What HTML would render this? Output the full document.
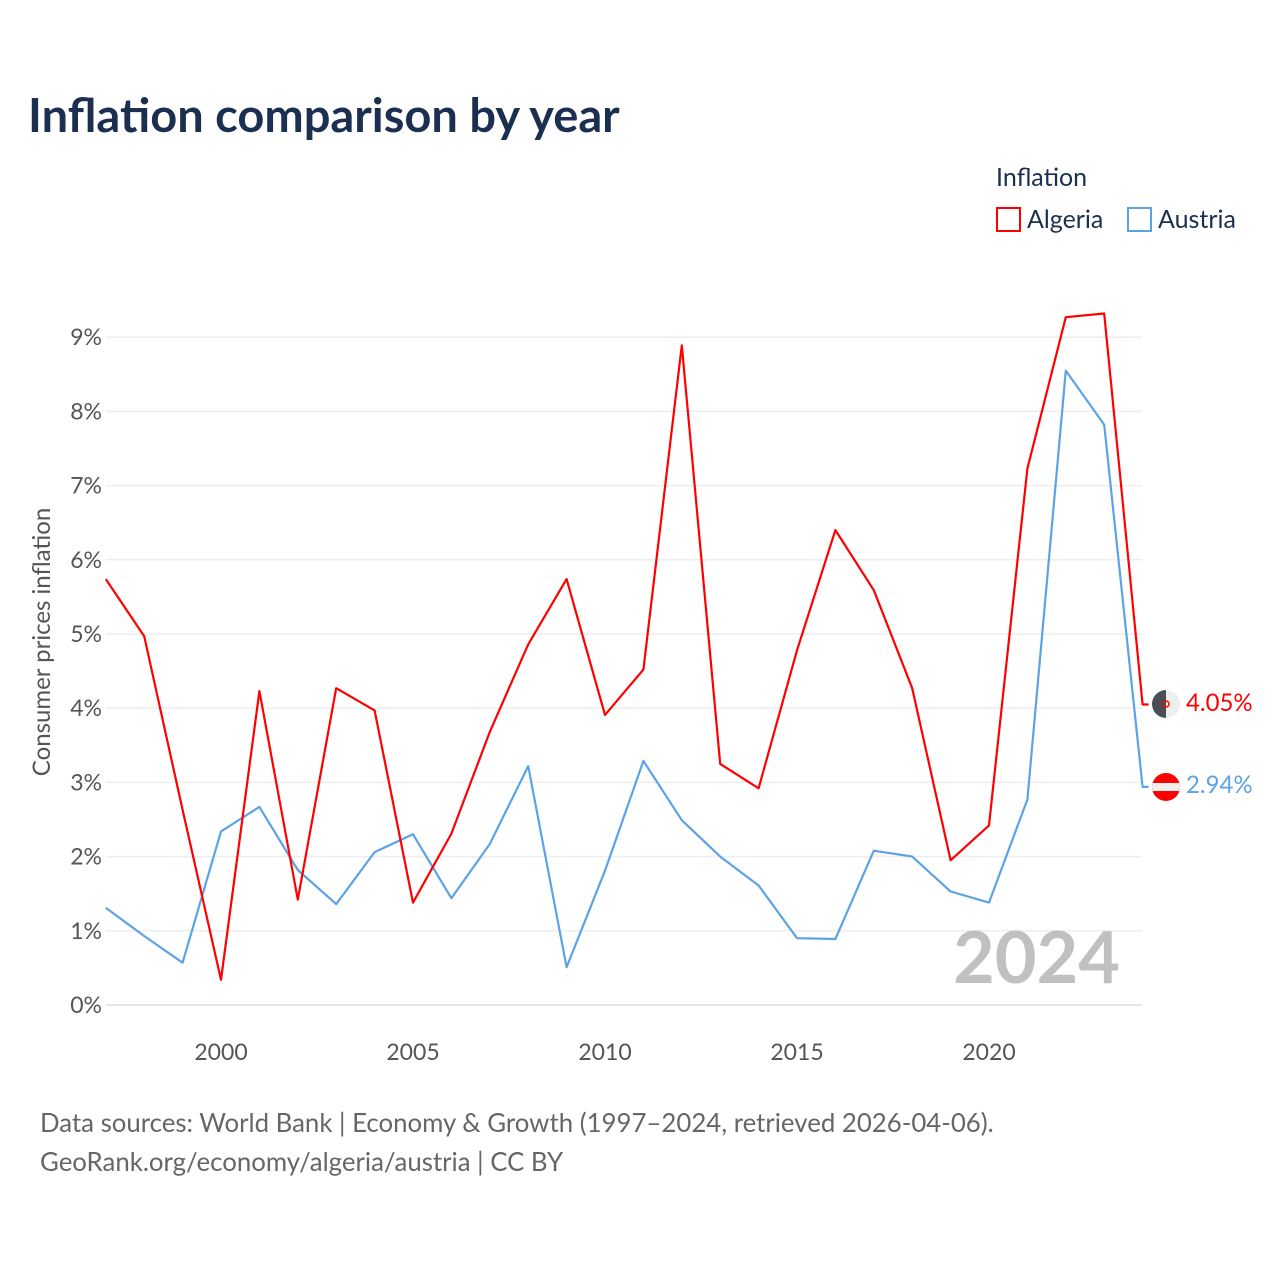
<!DOCTYPE html>
<html><head><meta charset="utf-8"><style>
body{margin:0;background:#fff;font-family:"Liberation Sans",sans-serif;}
svg text{font-family:"Lato","Liberation Sans",sans-serif;}
</style></head><body>
<svg width="1280" height="1280" xmlns="http://www.w3.org/2000/svg">
<text x="28" y="132" font-size="47" font-weight="bold" fill="#1b3050">Inflation comparison by year</text>
<text x="996" y="186" font-size="25" fill="#1b3050">Inflation</text>
<g><rect x="997" y="208" width="23" height="23" fill="none" stroke="#f00" stroke-width="2"/><text x="1027" y="228" font-size="25" fill="#1b3050">Algeria</text></g>
<g><rect x="1128" y="208" width="23" height="23" fill="none" stroke="#5ca3e6" stroke-width="2"/><text x="1158" y="228" font-size="25" fill="#1b3050">Austria</text></g>
<g id="grid"></g>
<g id="yt"></g>
<g id="xt"></g>
<text transform="translate(50,642) rotate(-90)" text-anchor="middle" font-size="24" fill="#555">Consumer prices inflation</text>
<text x="1120" y="983" text-anchor="end" font-size="72" font-weight="bold" fill="#c0c0c0">2024</text>
<g id="lines"></g>
<g><clipPath id="c1"><circle cx="1166" cy="704" r="14"/></clipPath><g clip-path="url(#c1)"><rect x="1152" y="690" width="14" height="28" fill="#4a4f55"/><rect x="1166" y="690" width="14" height="28" fill="#eee"/><circle cx="1166" cy="704" r="3" fill="none" stroke="#f00" stroke-width="1.5"/></g></g>
<g><clipPath id="c2"><circle cx="1166" cy="787" r="14"/></clipPath><g clip-path="url(#c2)"><rect x="1152" y="773" width="28" height="28" fill="#f00"/><rect x="1152" y="783" width="28" height="8" fill="#eee"/></g></g>
<text x="1186" y="711" font-size="24" fill="#f00">4.05%</text>
<text x="1186" y="793" font-size="24" fill="#5ca3e6">2.94%</text>
<text x="40" y="1132" font-size="25.8" fill="#666">Data sources: World Bank | Economy &amp; Growth (1997–2024, retrieved 2026-04-06).</text>
<text x="40" y="1171" font-size="25.8" fill="#666">GeoRank.org/economy/algeria/austria | CC BY</text>
</svg>
<script>
const years=[1997,1998,1999,2000,2001,2002,2003,2004,2005,2006,2007,2008,2009,2010,2011,2012,2013,2014,2015,2016,2017,2018,2019,2020,2021,2022,2023,2024];
const algeria=[5.74,4.97,2.63,0.34,4.23,1.42,4.27,3.97,1.38,2.31,3.68,4.86,5.74,3.91,4.52,8.89,3.25,2.92,4.78,6.40,5.59,4.27,1.95,2.42,7.23,9.27,9.32,4.05];
const austria=[1.31,0.93,0.57,2.34,2.67,1.82,1.36,2.06,2.30,1.44,2.17,3.22,0.51,1.81,3.29,2.49,2.00,1.61,0.90,0.89,2.08,2.00,1.53,1.38,2.77,8.55,7.82,2.94];
const yTicks=[0,1,2,3,4,5,6,7,8,9];
const xTicks=[2000,2005,2010,2015,2020];
const NS="http://www.w3.org/2000/svg";
const X=y=>221+(y-2000)*38.4;
const Y=v=>1005-v*74.2;
function mk(t,a,p){const e=document.createElementNS(NS,t);for(const k in a)e.setAttribute(k,a[k]);p.appendChild(e);return e;}
const grid=document.getElementById('grid'),yt=document.getElementById('yt'),xt=document.getElementById('xt'),lines=document.getElementById('lines');
yTicks.forEach(v=>{
 const l=mk('line',{x1:106,x2:1142,y1:Y(v),y2:Y(v),stroke:v===0?'#ddd':'#eee','stroke-width':1.5},grid);
 
 
 const t=mk('text',{x:102,y:Y(v)+8,'text-anchor':'end','font-size':23,fill:'#555'},yt);
 t.textContent=v+'%';
 
 
});
xTicks.forEach(v=>{
 const t=mk('text',{x:X(v),y:1060,'text-anchor':'middle','font-size':23,fill:'#555'},xt);
 t.textContent=v;
 
 
});
function draw(d,c,n){
 let p=d.map((v,i)=>(i?'L':'M')+X(years[i]).toFixed(1)+' '+Y(v).toFixed(1)).join(' ');
 p+=' L'+(X(years[years.length-1])+6)+' '+Y(d[d.length-1]).toFixed(1);
 const e=mk('path',{d:p,fill:'none',stroke:c,'stroke-width':2.2,'stroke-linejoin':'round'},lines);
 
 
}
draw(austria,'#5ca3e6','austria-line');
draw(algeria,'#f00','algeria-line');
</script>
</body></html>
